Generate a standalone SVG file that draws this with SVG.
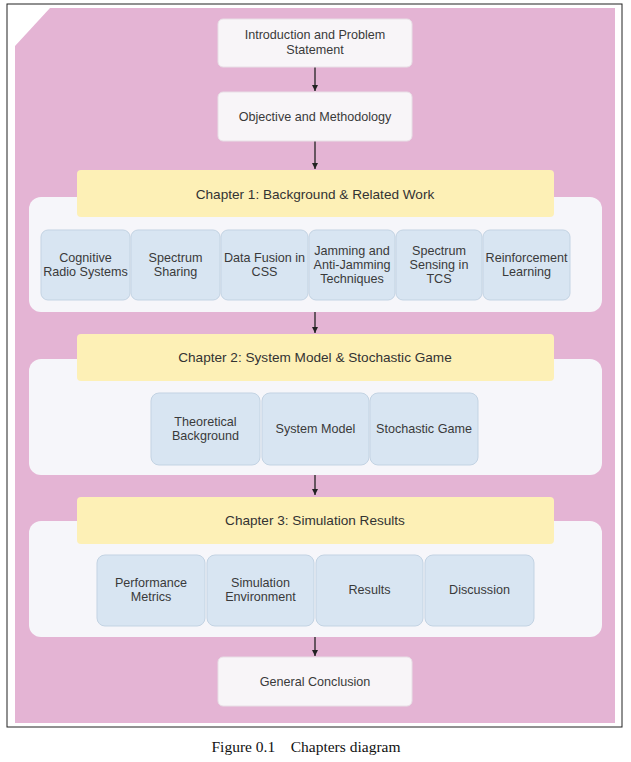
<svg xmlns="http://www.w3.org/2000/svg" width="631" height="762" viewBox="0 0 631 762">
<defs>
<style>
.t{font-family:"Liberation Sans",Arial,sans-serif;font-size:12.6px;fill:#3a3a3a;text-anchor:middle}
.ch{font-family:"Liberation Sans",Arial,sans-serif;font-size:13.6px;fill:#333;text-anchor:middle}
.top{fill:#f8f5f8;stroke:#e8dfe6;stroke-width:1}
.yel{fill:#fdf0b6}
.cont{fill:#f6f6fa}
.sub{fill:#d8e5f2;stroke:#c3d3e3;stroke-width:1}
.conn{stroke:#222;stroke-width:1.3;fill:none}
</style>
<marker id="ah" markerWidth="8" markerHeight="8" refX="6" refY="4" orient="auto" markerUnits="userSpaceOnUse">
<path d="M0,1 L6,4 L0,7 Z" fill="#222"/>
</marker>
</defs>
<rect x="0" y="0" width="631" height="762" fill="#ffffff"/>
<rect x="7" y="4" width="615" height="723" fill="#ffffff" stroke="#222" stroke-width="1"/>
<path d="M50,8 L615,8 L615,723 L15,723 L15,46 Z" fill="#e4b4d4"/>

<g id="connectors">
<line class="conn" x1="315" y1="67" x2="315" y2="91" marker-end="url(#ah)"/>
<line class="conn" x1="315" y1="141" x2="315" y2="169" marker-end="url(#ah)"/>
<line class="conn" x1="315" y1="312" x2="315" y2="333" marker-end="url(#ah)"/>
<line class="conn" x1="315" y1="475" x2="315" y2="495" marker-end="url(#ah)"/>
<line class="conn" x1="315" y1="637" x2="315" y2="656" marker-end="url(#ah)"/>
</g>

<g id="intro">
<rect class="top" x="218" y="19" width="194" height="48" rx="5"/>
<text class="t" x="315" y="39">Introduction and Problem</text>
<text class="t" x="315" y="54">Statement</text>
</g>
<g id="objective">
<rect class="top" x="218" y="92" width="194" height="49" rx="5"/>
<text class="t" x="315" y="121">Objective and Methodology</text>
</g>

<g id="chapter1">
<rect class="cont" x="29" y="197" width="573" height="115" rx="12"/>
<rect class="yel" x="77" y="170" width="477" height="47" rx="4"/>
<text class="ch" x="315" y="199">Chapter 1: Background &amp; Related Work</text>
</g>
<g id="c1-cognitive"><rect class="sub" x="41" y="230" width="89" height="70" rx="7"/><text class="t" x="85.5" y="262">Cognitive</text><text class="t" x="85.5" y="276">Radio Systems</text></g>
<g id="c1-sharing"><rect class="sub" x="131" y="230" width="89" height="70" rx="7"/><text class="t" x="175.5" y="262">Spectrum</text><text class="t" x="175.5" y="276">Sharing</text></g>
<g id="c1-fusion"><rect class="sub" x="221" y="230" width="87" height="70" rx="7"/><text class="t" x="264.5" y="262">Data Fusion in</text><text class="t" x="264.5" y="276">CSS</text></g>
<g id="c1-jamming"><rect class="sub" x="309" y="230" width="86" height="70" rx="7"/><text class="t" x="352" y="255">Jamming and</text><text class="t" x="352" y="269">Anti-Jamming</text><text class="t" x="352" y="283">Techniques</text></g>
<g id="c1-sensing"><rect class="sub" x="396" y="230" width="86" height="70" rx="7"/><text class="t" x="439" y="255">Spectrum</text><text class="t" x="439" y="269">Sensing in</text><text class="t" x="439" y="283">TCS</text></g>
<g id="c1-rl"><rect class="sub" x="483" y="230" width="87" height="70" rx="7"/><text class="t" x="526.5" y="262">Reinforcement</text><text class="t" x="526.5" y="276">Learning</text></g>

<g id="chapter2">
<rect class="cont" x="29" y="359" width="573" height="116" rx="12"/>
<rect class="yel" x="77" y="334" width="477" height="47" rx="4"/>
<text class="ch" x="315" y="362">Chapter 2: System Model &amp; Stochastic Game</text>
</g>
<g id="c2-theory"><rect class="sub" x="151" y="393" width="109" height="72" rx="8"/><text class="t" x="205.5" y="426">Theoretical</text><text class="t" x="205.5" y="440">Background</text></g>
<g id="c2-model"><rect class="sub" x="262" y="393" width="107" height="72" rx="8"/><text class="t" x="315.5" y="433">System Model</text></g>
<g id="c2-game"><rect class="sub" x="370" y="393" width="108" height="72" rx="8"/><text class="t" x="424" y="433">Stochastic Game</text></g>

<g id="chapter3">
<rect class="cont" x="29" y="521" width="573" height="116" rx="12"/>
<rect class="yel" x="77" y="497" width="477" height="47" rx="4"/>
<text class="ch" x="315" y="525">Chapter 3: Simulation Results</text>
</g>
<g id="c3-metrics"><rect class="sub" x="97" y="555" width="108" height="71" rx="8"/><text class="t" x="151" y="587">Performance</text><text class="t" x="151" y="601">Metrics</text></g>
<g id="c3-env"><rect class="sub" x="207" y="555" width="107" height="71" rx="8"/><text class="t" x="260.5" y="587">Simulation</text><text class="t" x="260.5" y="601">Environment</text></g>
<g id="c3-results"><rect class="sub" x="316" y="555" width="107" height="71" rx="8"/><text class="t" x="369.5" y="594">Results</text></g>
<g id="c3-discussion"><rect class="sub" x="425" y="555" width="109" height="71" rx="8"/><text class="t" x="479.5" y="594">Discussion</text></g>

<g id="conclusion">
<rect class="top" x="218" y="657" width="194" height="49" rx="5"/>
<text class="t" x="315" y="686">General Conclusion</text>
</g>

<text x="306" y="752" font-family="'Liberation Serif','Times New Roman',serif" font-size="15.5" fill="#111" text-anchor="middle" xml:space="preserve">Figure 0.1    Chapters diagram</text>
</svg>
